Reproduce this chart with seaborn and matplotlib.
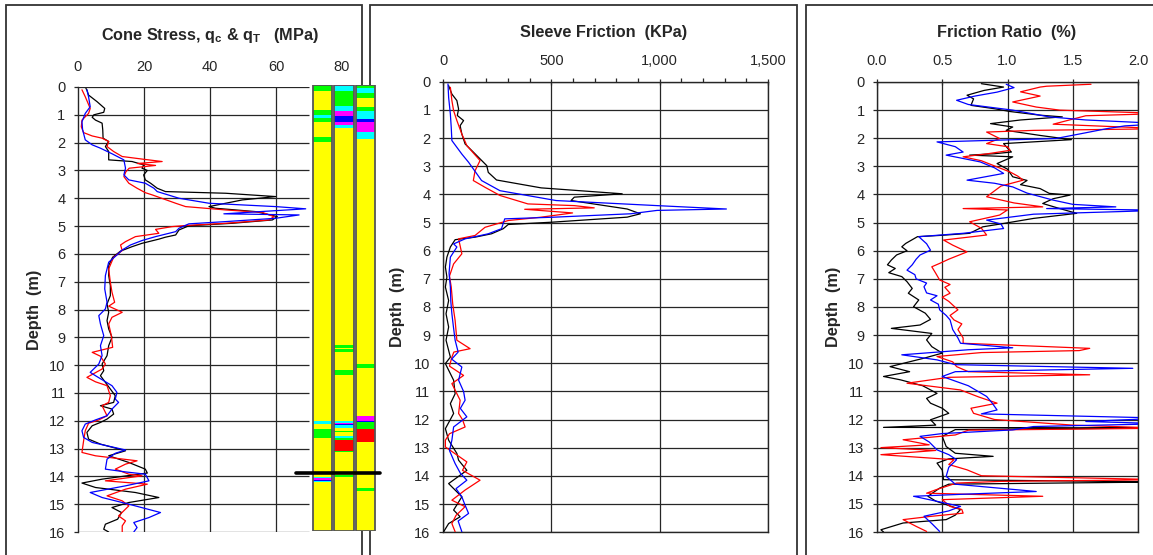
import matplotlib
matplotlib.use("Agg")
import matplotlib.pyplot as plt
from matplotlib.patches import Rectangle
from matplotlib.ticker import MultipleLocator
import seaborn as sns
import pandas as pd

sns.set_style("white")
plt.rcParams["font.family"] = ["Liberation Sans", "DejaVu Sans"]
plt.rcParams["mathtext.fontset"] = "custom"
plt.rcParams["mathtext.rm"] = "Liberation Sans"
plt.rcParams["mathtext.bf"] = "Liberation Sans:bold"
plt.rcParams["mathtext.it"] = "Liberation Sans:italic"

# ---------------------------------------------------------------- data
# (depth m, value) pairs for three soundings: black, red, blue
cone_black = [(0.05, 2.4), (0.11, 2.7), (0.29, 3.2), (0.53, 5.8), (0.77, 8.1), (0.91, 7.8), (1.0, 4.8),
              (1.09, 4.3), (1.19, 5.3), (1.3, 7.3), (1.54, 7.5), (1.84, 7.6), (1.96, 9.3), (2.14, 8.3),
              (2.32, 9.3), (2.62, 9.3), (2.68, 16.4), (2.8, 19.9), (2.92, 19.4), (3.0, 21.0), (3.16, 19.9),
              (3.34, 20.4), (3.46, 22.0), (3.64, 24.0), (3.76, 26.5), (3.82, 44.7), (3.94, 59.9),
              (4.06, 49.8), (4.3, 39.7), (4.36, 41.7), (4.48, 53.8), (4.66, 60.4), (4.78, 58.9),
              (4.9, 46.8), (4.99, 33.6), (5.14, 30.6), (5.32, 29.6), (5.4, 26.5), (5.47, 24.5),
              (5.62, 19.4), (5.74, 16.4), (5.9, 12.9), (6.12, 10.5), (6.42, 9.3), (6.78, 9.3), (7.14, 9.8),
              (7.5, 9.8), (7.8, 8.8), (8.1, 9.3), (8.4, 8.8), (8.7, 9.3), (9.0, 10.3), (9.3, 9.3),
              (9.66, 8.8), (9.96, 7.3), (10.2, 7.8), (10.38, 6.8), (10.62, 8.3), (10.86, 9.8),
              (11.1, 11.3), (11.34, 10.8), (11.46, 6.8), (11.58, 10.3), (11.76, 10.8), (11.94, 8.8),
              (12.06, 6.8), (12.18, 4.3), (12.42, 2.7), (12.66, 3.2), (12.84, 6.8), (13.08, 14.4),
              (13.26, 9.3), (13.5, 15.4), (13.74, 20.4), (13.88, 21.0), (14.1, 7.3), (14.24, 1.2),
              (14.4, 5.3), (14.58, 17.4), (14.76, 24.5), (14.94, 15.4), (15.12, 10.3), (15.3, 13.2),
              (15.54, 12.0), (15.72, 8.3), (15.9, 7.8), (16.0, 9.3)]
cone_red = [(0.1, 1.2), (0.35, 2.2), (0.77, 3.7), (0.95, 3.2), (1.19, 1.2), (1.43, 1.0), (1.64, 1.7),
            (1.76, 4.3), (1.84, 7.3), (1.96, 9.3), (2.14, 8.8), (2.32, 10.8), (2.5, 13.4), (2.6, 20.0),
            (2.68, 25.5), (2.75, 18.0), (2.82, 23.5), (2.92, 15.5), (3.05, 14.5), (3.22, 13.9),
            (3.46, 15.4), (3.64, 17.9), (3.8, 20.4), (3.88, 22.5), (4.18, 29.6), (4.3, 32.6),
            (4.42, 44.7), (4.51, 55.9), (4.66, 59.4), (4.78, 57.9), (4.9, 44.7), (4.98, 32.6),
            (5.02, 28.5), (5.12, 23.5), (5.26, 24.5), (5.38, 17.4), (5.56, 14.4), (5.68, 12.9),
            (5.88, 13.4), (6.12, 10.8), (6.54, 9.3), (7.02, 9.8), (7.38, 10.3), (7.74, 11.1),
            (7.88, 9.3), (8.1, 13.4), (8.28, 10.3), (8.52, 9.3), (8.94, 10.1), (9.36, 10.5),
            (9.54, 4.3), (9.68, 6.8), (9.96, 8.3), (10.14, 7.3), (10.44, 2.7), (10.6, 5.3),
            (10.74, 8.8), (11.1, 9.8), (11.34, 9.3), (11.46, 7.3), (11.82, 8.8), (11.97, 6.3),
            (12.09, 3.2), (12.36, 2.2), (12.72, 1.7), (13.14, 1.2), (13.26, 5.3), (13.44, 17.9),
            (13.56, 14.4), (13.74, 11.3), (13.92, 15.4), (13.98, 19.4), (14.16, 8.3), (14.28, 21.0),
            (14.46, 14.4), (14.7, 8.8), (14.88, 13.4), (15.06, 15.4), (15.42, 12.3), (15.6, 14.4),
            (15.78, 13.4), (16.0, 13.4)]
cone_blue = [(0.1, 2.7), (0.35, 3.2), (0.71, 3.7), (0.95, 2.2), (1.25, 1.2), (1.54, 1.4), (1.9, 2.2),
             (2.08, 4.3), (2.2, 6.8), (2.4, 10.3), (2.62, 13.9), (2.92, 14.4), (3.16, 13.9), (3.34, 15.4),
             (3.46, 20.4), (3.64, 23.0), (3.76, 24.0), (4.0, 30.6), (4.18, 39.7), (4.3, 59.9),
             (4.38, 69.0), (4.56, 44.2), (4.6, 67.0), (4.72, 59.9), (4.84, 44.7), (4.92, 33.6),
             (5.08, 30.6), (5.2, 29.6), (5.38, 23.5), (5.52, 19.4), (5.68, 15.9), (5.86, 13.4),
             (6.04, 11.8), (6.3, 9.3), (6.78, 8.3), (7.26, 8.1), (7.74, 8.8), (7.98, 8.3), (8.22, 6.3),
             (8.52, 6.8), (8.94, 7.8), (9.3, 6.8), (9.66, 7.3), (9.96, 6.3), (10.26, 3.7), (10.38, 5.3),
             (10.56, 7.8), (10.74, 10.3), (10.98, 11.8), (11.22, 11.3), (11.34, 12.3), (11.58, 10.3),
             (11.82, 8.8), (11.97, 5.3), (12.12, 2.2), (12.36, 1.2), (12.6, 1.7), (12.78, 4.3),
             (13.05, 14.4), (13.17, 11.3), (13.38, 8.8), (13.74, 8.3), (13.84, 14.4), (13.92, 20.4),
             (14.16, 21.5), (14.34, 14.4), (14.58, 3.7), (14.76, 7.3), (15.0, 15.4), (15.3, 25.0),
             (15.48, 21.5), (15.66, 16.9), (15.84, 17.9), (16.0, 16.9)]

sleeve_black = [(0.14, 26), (0.44, 41), (0.67, 64), (0.97, 72), (1.2, 66), (1.38, 95), (1.56, 79),
                (1.86, 87), (2.21, 102), (2.5, 140), (2.74, 171), (2.98, 202), (3.22, 209), (3.49, 247),
                (3.77, 453), (3.98, 827), (4.1, 606), (4.22, 591), (4.52, 850), (4.69, 911), (4.81, 850),
                (4.99, 500), (5.07, 301), (5.22, 278), (5.4, 224), (5.52, 148), (5.61, 56), (5.87, 34),
                (6.23, 18), (6.58, 11), (6.94, 18), (7.29, 11), (7.77, 26), (8.24, 14), (8.71, 26),
                (9.18, 14), (9.78, 34), (10.01, 11), (10.6, 49), (11.08, 56), (11.43, 34), (11.78, 49),
                (12.32, 11), (12.73, 26), (13.2, 64), (13.44, 72), (13.8, 110), (14.27, 26),
                (14.74, 87), (15.21, 49), (15.45, 79), (15.69, 26), (15.98, 3)]
sleeve_red = [(0.2, 34), (0.67, 41), (1.03, 49), (1.38, 64), (1.86, 87), (2.27, 110), (2.8, 171),
              (3.16, 148), (3.51, 140), (3.75, 194), (4.04, 263), (4.34, 392), (4.4, 606), (4.48, 698),
              (4.53, 377), (4.66, 598), (4.81, 453), (4.93, 301), (5.17, 194), (5.46, 148), (5.58, 72),
              (6.11, 87), (6.47, 49), (6.9, 30), (7.29, 38), (7.9, 45), (8.48, 56), (9.18, 64),
              (9.48, 125), (9.6, 50), (9.78, 41), (10.1, 30), (10.43, 95), (10.72, 41), (11.31, 79),
              (11.78, 72), (12.0, 90), (12.26, 102), (12.5, 30), (12.73, 11), (12.97, 11),
              (13.5, 110), (13.8, 90), (14.15, 171), (14.5, 102), (14.86, 41), (15.09, 102),
              (15.4, 60), (15.69, 41), (15.98, 56)]
sleeve_blue = [(0.08, 23), (0.56, 26), (1.15, 34), (1.62, 38), (2.09, 41), (2.57, 87), (2.86, 118),
               (3.27, 156), (3.51, 178), (3.87, 263), (4.22, 522), (4.4, 988), (4.52, 1308), (4.57, 988),
               (4.69, 866), (4.81, 514), (4.87, 285), (5.22, 270), (5.4, 209), (5.58, 102), (5.76, 49),
               (5.87, 64), (6.23, 34), (6.8, 28), (7.29, 34), (7.8, 36), (8.24, 41), (8.7, 48),
               (9.18, 56), (9.6, 70), (9.85, 40), (10.13, 87), (10.6, 72), (11.0, 95), (11.31, 102),
               (11.6, 80), (11.9, 110), (12.26, 49), (12.73, 41), (13.1, 30), (13.56, 56), (13.9, 80),
               (14.15, 110), (14.45, 60), (14.74, 87), (15.0, 100), (15.33, 118), (15.6, 70),
               (15.98, 87)]

ratio_black = [(0.06, 0.80), (0.18, 0.97), (0.3, 0.82), (0.47, 0.69), (0.6, 0.74), (0.83, 0.72),
               (0.95, 0.90), (1.05, 1.02), (1.18, 1.25), (1.24, 1.42), (1.35, 1.10), (1.48, 0.87),
               (1.6, 1.04), (1.72, 0.99), (1.9, 1.25), (2.05, 1.49), (2.19, 0.97), (2.35, 1.0),
               (2.49, 1.03), (2.55, 0.90), (2.6, 0.71), (2.66, 1.04), (2.9, 0.92), (3.1, 1.0),
               (3.37, 1.04), (3.5, 1.15), (3.65, 1.10), (3.79, 1.25), (3.96, 1.32), (4.02, 1.48),
               (4.15, 1.35), (4.32, 1.27), (4.5, 1.40), (4.67, 1.53), (4.85, 1.2), (5.03, 0.97),
               (5.15, 0.81), (5.38, 0.71), (5.45, 0.50), (5.5, 0.31), (5.74, 0.22), (5.86, 0.19),
               (6.0, 0.23), (6.15, 0.15), (6.33, 0.11), (6.5, 0.08), (6.63, 0.14), (6.78, 0.09),
               (6.92, 0.19), (7.1, 0.23), (7.34, 0.27), (7.51, 0.24), (7.75, 0.32), (7.99, 0.28),
               (8.22, 0.37), (8.44, 0.41), (8.64, 0.33), (8.76, 0.11), (8.94, 0.42), (9.17, 0.38),
               (9.41, 0.42), (9.64, 0.50), (9.82, 0.36), (10.12, 0.10), (10.3, 0.25), (10.47, 0.05),
               (10.59, 0.18), (10.8, 0.35), (11.07, 0.46), (11.25, 0.38), (11.42, 0.41), (11.6, 0.50),
               (11.78, 0.55), (12.01, 0.41), (12.2, 0.45), (12.28, 0.05), (12.3, 2.2), (12.36, 0.60),
               (12.6, 0.50), (12.96, 0.53), (13.2, 0.60), (13.31, 0.89), (13.4, 0.55), (13.55, 0.46),
               (13.8, 0.50), (14.14, 0.51), (14.22, 2.2), (14.3, 0.55), (14.44, 0.48), (14.73, 0.39),
               (14.9, 0.45), (15.2, 0.64), (15.4, 0.60), (15.56, 0.53), (15.68, 0.20), (15.92, 0.03),
               (16.0, 0.05)]
ratio_red = [(0.08, 1.64), (0.15, 1.30), (0.18, 1.25), (0.35, 1.10), (0.5, 1.25), (0.71, 1.04),
             (0.89, 1.22), (1.0, 1.40), (1.12, 2.2), (1.2, 1.60), (1.5, 1.35), (1.66, 2.2), (1.72, 1.2),
             (1.78, 0.84), (2.01, 0.94), (2.19, 0.84), (2.3, 1.0), (2.43, 1.02), (2.55, 0.85),
             (2.66, 0.66), (2.8, 0.80), (3.02, 0.92), (3.2, 1.02), (3.35, 1.08), (3.49, 1.12),
             (3.7, 0.95), (4.08, 0.84), (4.3, 1.05), (4.44, 1.27), (4.5, 0.66), (4.55, 1.0),
             (4.73, 0.94), (4.97, 0.71), (5.2, 0.80), (5.44, 0.84), (5.62, 0.51), (5.8, 0.58),
             (6.04, 0.69), (6.3, 0.55), (6.45, 0.48), (6.57, 0.42), (6.8, 0.45), (7.04, 0.48),
             (7.2, 0.56), (7.3, 0.52), (7.51, 0.56), (7.65, 0.50), (7.8, 0.55), (8.1, 0.62),
             (8.3, 0.56), (8.46, 0.59), (8.6, 0.65), (8.8, 0.62), (9.1, 0.66), (9.29, 0.66),
             (9.47, 1.63), (9.55, 1.55), (9.62, 0.80), (9.76, 0.46), (9.95, 0.58), (10.12, 0.61),
             (10.3, 0.70), (10.41, 1.63), (10.5, 0.55), (10.71, 0.23), (10.95, 0.64), (11.2, 0.78),
             (11.42, 0.92), (11.6, 0.72), (11.78, 0.74), (12.0, 0.90), (12.2, 1.5), (12.31, 2.2),
             (12.38, 0.70), (12.55, 0.60), (12.72, 0.20), (12.9, 0.40), (13.0, 0.03), (13.1, 0.45),
             (13.25, 0.03), (13.43, 0.59), (13.6, 0.55), (13.79, 0.69), (14.0, 0.80), (14.14, 2.2),
             (14.2, 0.95), (14.26, 0.61), (14.5, 0.45), (14.62, 0.38), (14.73, 1.27), (14.85, 0.50),
             (15.09, 0.56), (15.2, 0.65), (15.33, 0.66), (15.45, 0.40), (15.56, 0.20), (15.8, 0.30),
             (15.98, 0.38)]
ratio_blue = [(0.08, 0.99), (0.2, 1.05), (0.36, 0.92), (0.5, 0.75), (0.65, 0.61), (0.8, 0.70),
              (1.0, 1.04), (1.24, 1.32), (1.35, 1.60), (1.48, 2.2), (1.56, 1.90), (1.66, 1.76),
              (1.85, 1.55), (2.01, 1.37), (2.13, 0.46), (2.3, 0.60), (2.49, 0.66), (2.6, 0.53),
              (2.84, 0.79), (3.05, 0.90), (3.25, 0.97), (3.49, 0.69), (3.6, 0.90), (3.73, 1.04),
              (3.95, 1.15), (4.2, 1.35), (4.35, 1.50), (4.44, 1.83), (4.5, 1.30), (4.56, 2.2),
              (4.7, 1.20), (4.91, 0.84), (5.05, 0.95), (5.21, 0.97), (5.38, 0.66), (5.5, 0.32),
              (5.75, 0.38), (5.98, 0.41), (6.15, 0.33), (6.3, 0.30), (6.5, 0.27), (6.69, 0.23),
              (6.85, 0.29), (7.0, 0.30), (7.15, 0.38), (7.28, 0.36), (7.5, 0.38), (7.6, 0.46),
              (7.75, 0.41), (7.9, 0.47), (8.1, 0.48), (8.3, 0.53), (8.46, 0.56), (8.8, 0.58),
              (9.1, 0.62), (9.29, 0.64), (9.45, 1.04), (9.52, 0.70), (9.7, 0.19), (9.88, 0.46),
              (10.05, 0.60), (10.18, 1.96), (10.3, 0.60), (10.47, 0.50), (10.8, 0.70), (11.18, 0.84),
              (11.4, 0.88), (11.66, 0.92), (11.8, 0.80), (11.95, 2.2), (12.07, 1.6), (12.15, 2.2),
              (12.25, 1.2), (12.37, 1.04), (12.5, 0.50), (12.6, 0.33), (12.8, 0.40), (13.08, 0.46),
              (13.25, 0.55), (13.43, 0.61), (13.7, 0.55), (14.02, 0.53), (14.3, 0.60), (14.56, 1.22),
              (14.65, 0.70), (14.73, 0.28), (14.9, 0.45), (15.09, 0.64), (15.25, 0.55), (15.44, 0.36),
              (15.7, 0.42), (15.98, 0.48)]

# soil behaviour strips: (top m, bottom m, colour) drawn over a yellow base
strip_1 = [(0.0, 0.23, "#00FF00"), (0.89, 1.07, "#00FF00"), (1.07, 1.19, "#00FFFF"),
           (1.19, 1.31, "#00FF00"), (1.85, 2.05, "#00FF00"), (12.07, 12.17, "#00FFFF"),
           (12.34, 12.66, "#00FF00"), (14.07, 14.11, "#00FFFF"), (14.11, 14.16, "#FF00FF"),
           (14.16, 14.2, "#0000FF"), (14.2, 14.24, "#00FFFF")]
strip_2 = [(0.0, 0.04, "#FF00FF"), (0.04, 0.23, "#00FFFF"), (0.23, 0.77, "#00FF00"),
           (0.77, 0.95, "#00FFFF"), (0.95, 1.11, "#FF00FF"), (1.11, 1.34, "#0000FF"),
           (1.34, 1.43, "#FF00FF"), (1.43, 1.53, "#00FFFF"), (9.34, 9.44, "#00FF00"),
           (9.48, 9.58, "#00FF00"), (10.24, 10.4, "#00FF00"), (12.06, 12.12, "#00FFFF"),
           (12.12, 12.16, "#FF00FF"), (12.16, 12.19, "#0000FF"), (12.19, 12.31, "#00FFFF"),
           (12.4, 12.46, "#00FF00"), (12.58, 12.67, "#00FFFF"), (12.67, 12.72, "#00FF00"),
           (12.72, 13.12, "#FF0000"), (13.12, 13.18, "#00FF00"), (13.99, 14.08, "#00FF00")]
strip_3 = [(0.0, 0.11, "#00FF00"), (0.11, 0.29, "#00FFFF"), (0.29, 0.47, "#00FF00"),
           (0.8, 0.92, "#00FF00"), (0.92, 1.21, "#00FFFF"), (1.21, 1.31, "#0000FF"),
           (1.31, 1.67, "#FF00FF"), (1.67, 1.93, "#00FFFF"), (10.0, 10.16, "#00FF00"),
           (11.86, 12.04, "#FF00FF"), (12.04, 12.1, "#0000FF"), (12.1, 12.34, "#00FF00"),
           (12.34, 12.82, "#FF0000"), (14.44, 14.56, "#00FF00")]
strip_base = "#FFFF00"
marker_depth = 13.93

depth_ticks = list(range(0, 17))
cone_ticks = [0, 20, 40, 60, 80]
sleeve_ticks = [0, 500, 1000, 1500]
sleeve_labels = ["0", "500", "1,000", "1,500"]
ratio_ticks = [0.0, 0.5, 1.0, 1.5, 2.0]
ratio_labels = ["0.0", "0.5", "1.0", "1.5", "2.0"]
series_colors = ["black", "#FF0000", "#0000FF"]

# ---------------------------------------------------------------- figure
W, H = 1153, 555
fig = plt.figure(figsize=(W / 100, H / 100), dpi=100)
GRID = "#262626"
TICK_FS = 10.5
LABEL_FS = 11.7


def px_axes(x0, y0, x1, y1):
    return fig.add_axes([x0 / W, 1 - y1 / H, (x1 - x0) / W, (y1 - y0) / H])


def draw_profile(ax, pts, color):
    df = pd.DataFrame(pts, columns=["depth", "value"])
    sns.lineplot(data=df, x="value", y="depth", sort=False, estimator=None,
                 color=color, lw=0.9, ax=ax, legend=False, zorder=3)


# panel frames
for x0, x1 in [(6, 362), (370, 797), (806, 1170)]:
    fig.add_artist(Rectangle((x0 / W, -0.1), (x1 - x0) / W, 1.1 - 5 / H,
                             transform=fig.transFigure, fill=False,
                             ec="#333333", lw=1.3, zorder=-1))

# ---- cone stress
ax1 = px_axes(78, 87, 342, 532)
ax1.patch.set_visible(False)
for pts, c in zip([cone_black, cone_red, cone_blue], series_colors):
    draw_profile(ax1, pts, c)
ax1.set_xlim(0, 80)
ax1.set_ylim(16, 0)
ax1.hlines(depth_ticks, 0, 70, color=GRID, lw=0.9, zorder=1)
ax1.vlines(cone_ticks[1:4], 0, 16, color=GRID, lw=0.9, zorder=1)
for s in ["top", "right", "bottom"]:
    ax1.spines[s].set_visible(False)
ax1.spines["left"].set_color(GRID)
ax1.spines["left"].set_linewidth(1.0)
ax1.xaxis.tick_top()
ax1.set_xticks(cone_ticks)
ax1.set_yticks(depth_ticks)
ax1.tick_params(axis="x", length=0, pad=9.5, labelsize=TICK_FS)
ax1.tick_params(axis="y", left=True, direction="out", length=3, width=0.9,
                color=GRID, pad=6.0, labelsize=TICK_FS)
ax1.set_xlabel("")
ax1.set_ylabel("Depth  (m)", fontsize=LABEL_FS, fontweight="bold")
ax1.yaxis.set_label_coords((42 - 78) / 264, 0.5)
ax1.text(0.5, 1.115, r"Cone Stress, q$_\mathbf{c}$ & q$_\mathbf{T}$   (MPa)",
         transform=ax1.transAxes, ha="center", va="center",
         fontsize=LABEL_FS, fontweight="bold")

# ---- soil behaviour strips
axs = px_axes(312, 85, 376, 531)
axs.patch.set_visible(False)
axs.set_xlim(0, 3)
axs.set_ylim(16, 0)
axs.axis("off")
for i, layers in enumerate([strip_1, strip_2, strip_3]):
    axs.bar(i + 0.5, 16, bottom=0, width=0.92, color=strip_base, lw=0)
    for top, bot, col in layers:
        axs.bar(i + 0.5, bot - top, bottom=top, width=0.92, color=col, lw=0)
    axs.add_patch(Rectangle((i + 0.04, 0), 0.92, 16, fill=False, ec="#555555", lw=1.3))
axs.axhline(marker_depth, xmin=-0.25, xmax=1.07, color="black", lw=2.6, clip_on=False)


# ---- sleeve friction / friction ratio
def style_profile_axes(ax, xlim, ticks, labels, minor=None):
    ax.set_xlim(*xlim)
    ax.set_ylim(16, 0)
    ax.xaxis.tick_top()
    ax.set_xticks(ticks)
    ax.set_xticklabels(labels)
    if minor:
        ax.xaxis.set_minor_locator(MultipleLocator(minor))
    ax.set_yticks(depth_ticks)
    ax.grid(True, color=GRID, lw=0.9, zorder=1)
    ax.set_axisbelow(True)
    for s in ax.spines.values():
        s.set_visible(True)
        s.set_color(GRID)
        s.set_linewidth(1.0)
    ax.tick_params(axis="x", which="major", top=True, direction="inout", length=5,
                   width=0.9, color=GRID, pad=7.5, labelsize=TICK_FS)
    ax.tick_params(axis="x", which="minor", top=True, direction="out", length=3,
                   width=0.9, color=GRID)
    ax.tick_params(axis="y", left=True, direction="out", length=3, width=0.9,
                   color=GRID, pad=6.0, labelsize=TICK_FS)
    ax.set_xlabel("")


ax2 = px_axes(443, 81.7, 768, 532.3)
for pts, c in zip([sleeve_black, sleeve_red, sleeve_blue], series_colors):
    draw_profile(ax2, pts, c)
style_profile_axes(ax2, (0, 1500), sleeve_ticks, sleeve_labels, minor=100)
ax2.set_ylabel("Depth  (m)", fontsize=LABEL_FS, fontweight="bold")
ax2.yaxis.set_label_coords((405 - 443) / 325, 0.5)
ax2.text(0.495, 1.11, "Sleeve Friction  (KPa)", transform=ax2.transAxes,
         ha="center", va="center", fontsize=LABEL_FS, fontweight="bold")

ax3 = px_axes(877, 82, 1138, 532)
for pts, c in zip([ratio_black, ratio_red, ratio_blue], series_colors):
    draw_profile(ax3, pts, c)
style_profile_axes(ax3, (0, 2.0), ratio_ticks, ratio_labels)
ax3.set_ylabel("Depth  (m)", fontsize=LABEL_FS, fontweight="bold")
ax3.yaxis.set_label_coords((841 - 877) / 261, 0.5)
ax3.text(0.498, 1.111, "Friction Ratio  (%)", transform=ax3.transAxes,
         ha="center", va="center", fontsize=LABEL_FS, fontweight="bold")

fig.savefig("out.png", dpi=100)
